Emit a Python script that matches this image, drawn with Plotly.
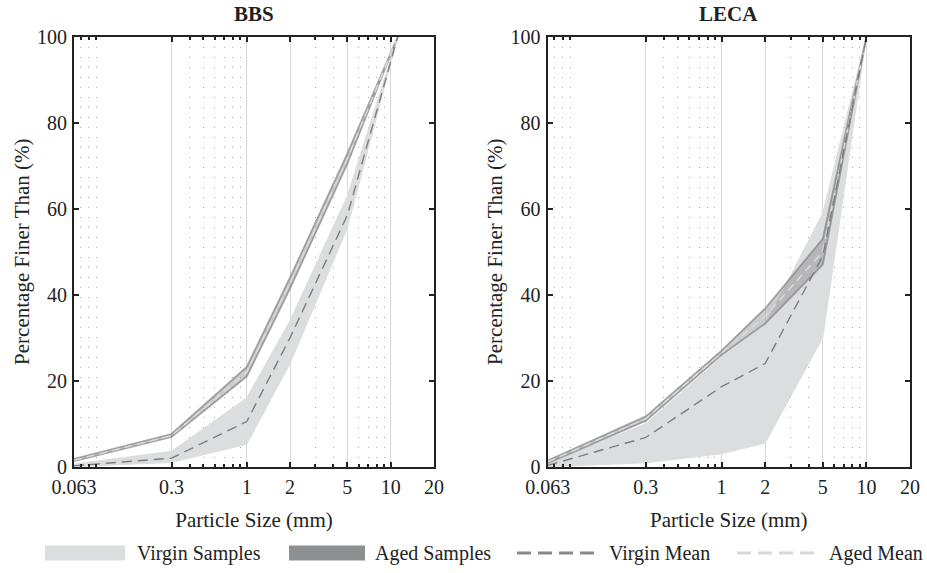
import plotly.graph_objects as go

# ---------------- data ----------------
tick_vals = [0.063, 0.3, 1, 2, 5, 10, 20]
tick_text = ["0.063", "0.3", "1", "2", "5", "10", "20"]
minor_vals = [0.07, 0.08, 0.09, 0.4, 0.5, 0.6, 0.7, 0.8, 0.9, 3, 4, 6, 7, 8, 9]
y_ticks = [0, 20, 40, 60, 80, 100]

bbs_sizes = [0.063, 0.3, 1, 2, 5, 11.2]
bbs_virgin_low = [0.0, 1.0, 5.2, 24.0, 55.5, 100]
bbs_virgin_high = [0.6, 3.6, 16.0, 34.0, 63.0, 100]
bbs_virgin_mean = [0.2, 2.0, 10.5, 30.0, 58.5, 100]
bbs_aged_low = [1.3, 6.9, 21.0, 41.5, 70.5, 100]
bbs_aged_high = [1.8, 7.6, 23.2, 44.0, 72.8, 100]
bbs_aged_mean = [1.5, 7.2, 22.0, 42.8, 71.6, 100]

leca_sizes = [0.063, 0.3, 1, 2, 5, 10]
leca_virgin_low = [0.0, 0.9, 3.0, 5.5, 30.0, 100]
leca_virgin_high = [1.0, 10.0, 25.5, 33.0, 59.0, 100]
leca_virgin_mean = [0.3, 6.8, 18.6, 24.0, 49.0, 100]
leca_aged_low = [0.8, 10.7, 26.0, 33.3, 47.0, 100]
leca_aged_high = [1.4, 11.7, 27.0, 36.8, 53.0, 100]
leca_aged_mean = [1.1, 11.2, 26.5, 35.0, 50.0, 100]

panel_titles = ["BBS", "LECA"]
legend_labels = ["Virgin Samples", "Aged Samples", "Virgin Mean", "Aged Mean"]

# ---------------- styles ----------------
FONT = "Liberation Serif"
VIRGIN_FILL = "#dcdddf"
AGED_FILL = "rgba(130,131,135,0.42)"
AGED_EDGE = "rgba(130,131,135,0.72)"
VIRGIN_MEAN_C = "#7d7d7d"
AGED_MEAN_C = "#dadada"

fig = go.Figure()

panels = [
    ("x", "y", bbs_sizes, bbs_virgin_low, bbs_virgin_high, bbs_virgin_mean,
     bbs_aged_low, bbs_aged_high, bbs_aged_mean),
    ("x2", "y2", leca_sizes, leca_virgin_low, leca_virgin_high, leca_virgin_mean,
     leca_aged_low, leca_aged_high, leca_aged_mean),
]

for i, (xa, ya, xs, vlo, vhi, vmean, alo, ahi, amean) in enumerate(panels):
    fig.add_trace(go.Scatter(
        x=list(xs) + list(xs)[::-1], y=list(vhi) + list(vlo)[::-1],
        fill="toself", fillcolor=VIRGIN_FILL, mode="lines",
        line=dict(color=VIRGIN_FILL, width=1),
        xaxis=xa, yaxis=ya, showlegend=False, hoverinfo="skip",
        name=legend_labels[0]))
    fig.add_trace(go.Scatter(
        x=list(xs) + list(xs)[::-1], y=list(ahi) + list(alo)[::-1],
        fill="toself", fillcolor=AGED_FILL, mode="lines",
        line=dict(color=AGED_EDGE, width=1.8),
        xaxis=xa, yaxis=ya, showlegend=False, hoverinfo="skip",
        name=legend_labels[1]))
    fig.add_trace(go.Scatter(
        x=xs, y=amean, mode="lines",
        line=dict(color=AGED_MEAN_C, width=1.5, dash="8px,5px"),
        xaxis=xa, yaxis=ya, showlegend=False, name=legend_labels[3]))
    fig.add_trace(go.Scatter(
        x=xs, y=vmean, mode="lines",
        line=dict(color=VIRGIN_MEAN_C, width=1.4, dash="10px,6px"),
        xaxis=xa, yaxis=ya, showlegend=False, name=legend_labels[2]))

xdom = [[74 / 927, 434 / 927], [547.7 / 927, 910 / 927]]
ydom = [106.3 / 573, 536.3 / 573]

def xaxis_cfg(dom, anchor):
    return dict(
        type="log", range=[-1.2007, 1.30103], domain=dom, anchor=anchor,
        automargin=False,
        tickmode="array", tickvals=tick_vals, ticktext=tick_text,
        ticks="inside", ticklen=5, tickwidth=1.5, tickcolor="#222",
        showline=True, linewidth=2.2, linecolor="#222", mirror="ticks",
        showgrid=True, gridcolor="#d9d9d9", gridwidth=1,
        minor=dict(tickmode="array", tickvals=minor_vals, ticks="inside",
                   ticklen=3, tickcolor="#222", showgrid=True,
                   gridcolor="#a9a9a9", griddash="1.5px,8.5px", gridwidth=1),
        tickfont=dict(family=FONT, size=20, color="#222"),
        ticklabelstandoff=1,
        title=dict(text="Particle Size (mm)", standoff=16,
                   font=dict(family=FONT, size=21, color="#222")),
        zeroline=False, fixedrange=True)

def yaxis_cfg(anchor):
    return dict(
        range=[0, 100], domain=ydom, anchor=anchor,
        automargin=False,
        tickmode="array", tickvals=y_ticks,
        ticks="inside", ticklen=5, tickwidth=1.5, tickcolor="#222",
        showline=True, linewidth=2.2, linecolor="#222", mirror="ticks",
        showgrid=False, zeroline=False,
        tickfont=dict(family=FONT, size=20, color="#222"),
        ticklabelstandoff=1,
        title=dict(text="Percentage Finer Than (%)", standoff=2,
                   font=dict(family=FONT, size=21, color="#222")),
        fixedrange=True)

fig.update_layout(
    width=927, height=573,
    margin=dict(l=0, r=0, t=0, b=0, autoexpand=False),
    paper_bgcolor="white", plot_bgcolor="white",
    showlegend=False,
    font=dict(family=FONT, color="#222"),
    xaxis=xaxis_cfg(xdom[0], "y"),
    xaxis2=xaxis_cfg(xdom[1], "y2"),
    yaxis=yaxis_cfg("x"),
    yaxis2=yaxis_cfg("x2"),
)

for i, t in enumerate(panel_titles):
    fig.add_annotation(
        text="<b>%s</b>" % t, xref="paper", yref="paper",
        x=(xdom[i][0] + xdom[i][1]) / 2, y=1 - 14 / 573,
        xanchor="center", yanchor="middle", showarrow=False,
        font=dict(family=FONT, size=21, color="#222"))

# manual legend (bottom)
ly = 1 - 553 / 573
lh = 7.5 / 573
swatches = [(45, 125, VIRGIN_FILL, "rect"), (289, 365, "#8e8f93", "rect"),
            (517, 600, "#8a8a8a", "line"), (737, 820, "#d8d8d8", "line")]
text_x = [136, 374, 608, 828]
for (x0, x1, col, kind), tx, lab in zip(swatches, text_x, legend_labels):
    if kind == "rect":
        fig.add_shape(type="rect", xref="paper", yref="paper",
                      x0=x0 / 927, x1=x1 / 927, y0=ly - lh, y1=ly + lh,
                      fillcolor=col, line=dict(width=0))
    else:
        fig.add_shape(type="line", xref="paper", yref="paper",
                      x0=x0 / 927, x1=x1 / 927, y0=ly, y1=ly,
                      line=dict(color=col, width=3, dash="14px,7px"))
    fig.add_annotation(text=lab, xref="paper", yref="paper",
                       x=tx / 927, y=ly, xanchor="left", yanchor="middle",
                       showarrow=False, borderpad=0,
                       font=dict(family=FONT, size=20, color="#222"))

fig.write_html("out.html",
               config={"displayModeBar": False},
               post_script="document.body.style.margin='0';"
                           "document.body.style.overflow='hidden';")
